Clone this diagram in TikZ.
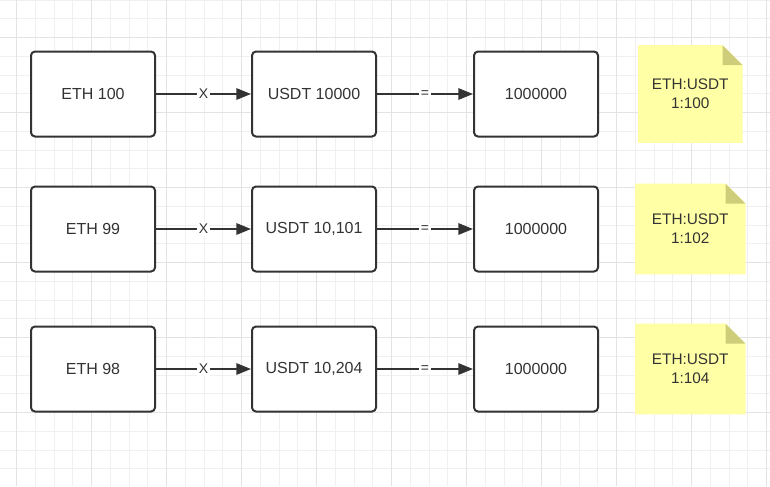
\documentclass[tikz,border=0pt]{standalone}
\usepackage{fontspec}
\setmainfont{Liberation Sans}
\usetikzlibrary{arrows.meta, positioning, backgrounds}
\definecolor{ink}{HTML}{333333}
\definecolor{gridminor}{HTML}{F0F0F0}
\definecolor{gridmajor}{HTML}{E3E3E3}
\definecolor{notefill}{HTML}{FFFFA6}
\definecolor{notefold}{HTML}{CDCD7A}
\tikzset{
    blk/.style={draw=ink, line width=1.5pt, rounded corners=3pt, fill=white, text=ink,
                minimum width=93pt, minimum height=63.75pt, inner sep=0pt,
                font=\fontsize{12}{14}\selectfont},
    note/.style={text=ink, align=center, inner sep=0pt, minimum width=82.5pt, minimum height=67.5pt,
                 font=\fontsize{11.5}{14}\selectfont},
    arr/.style={-{Triangle[length=11pt, width=8.5pt]}, line width=1.5pt, ink},
    lbl/.style={fill=white, text=ink, inner sep=1.5pt, font=\fontsize{10.5}{12}\selectfont}
}

\begin{document}
\begin{tikzpicture}
    \useasboundingbox (0,0) rectangle (577.5pt,-364.5pt);
    % boxes
    \node[blk] (eth1) at (69.75pt,-70.5pt) {ETH 100};
    \node[blk, below=36pt of eth1] (eth2) {ETH 99};
    \node[blk, below=39.75pt of eth2] (eth3) {ETH 98};
    \node[blk, right=71.25pt of eth1] (usdt1) {USDT 10000};
    \node[blk, right=71.25pt of eth2] (usdt2) {USDT 10,101};
    \node[blk, right=71.25pt of eth3] (usdt3) {USDT 10,204};
    \node[blk, right=72pt of usdt1] (prod1) {1000000};
    \node[blk, right=72pt of usdt2] (prod2) {1000000};
    \node[blk, right=72pt of usdt3] (prod3) {1000000};
    % notes
    \node[note, minimum width=78pt, minimum height=72.75pt, right=29.25pt of prod1] (note1) {ETH:USDT\\1:100};
    \node[note, right=27pt of prod2] (note2) {ETH:USDT\\1:102};
    \node[note, right=27pt of prod3] (note3) {ETH:USDT\\1:104};
    % arrows
    \draw[arr] (eth1) -- node[lbl] {X} (usdt1);
    \draw[arr] (eth2) -- node[lbl] {X} (usdt2);
    \draw[arr] (eth3) -- node[lbl] {X} (usdt3);
    \draw[arr] (usdt1) -- node[lbl] {=} (prod1);
    \draw[arr] (usdt2) -- node[lbl] {=} (prod2);
    \draw[arr] (usdt3) -- node[lbl] {=} (prod3);
    \begin{scope}[on background layer]
        % grid
        \foreach \i in {0,...,41}
            \draw[gridminor, line width=0.75pt] ({-1.54pt+14.0625pt*\i},0) -- ++(0,-364.5pt);
        \foreach \j in {0,...,26}
            \draw[gridminor, line width=0.75pt] (0,{-14.0625pt*\j}) -- ++(577.5pt,0);
        \foreach \i in {1,5,...,41}
            \draw[gridmajor, line width=0.75pt] ({-1.54pt+14.0625pt*\i},0) -- ++(0,-364.5pt);
        \foreach \j in {2,6,...,26}
            \draw[gridmajor, line width=0.75pt] (0,{-14.0625pt*\j}) -- ++(577.5pt,0);
        % note paper with folded corner
        \foreach \n in {note1,note2,note3} {
            \fill[notefill] (\n.north west) -- ([xshift=-15pt]\n.north east)
                -- ([yshift=-15pt]\n.north east) -- (\n.south east) -- (\n.south west) -- cycle;
            \fill[notefold] ([xshift=-15pt]\n.north east) -- ([yshift=-15pt]\n.north east)
                -- ([xshift=-15pt, yshift=-15pt]\n.north east) -- cycle;
        }
    \end{scope}
\end{tikzpicture}
\end{document}
